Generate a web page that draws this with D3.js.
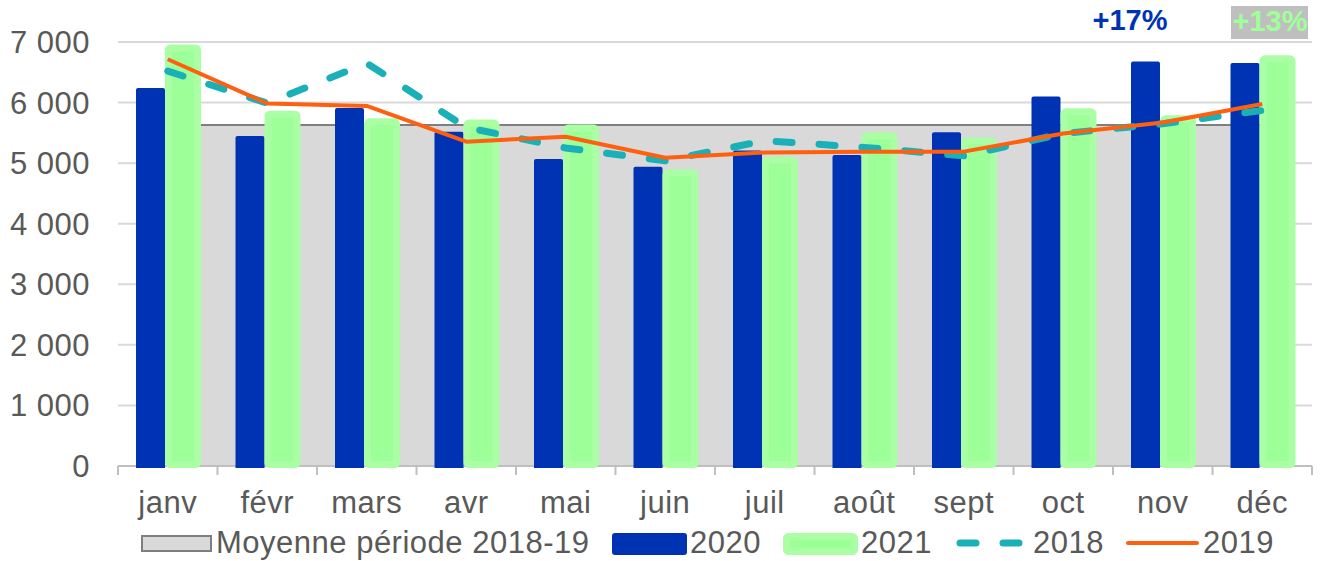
<!DOCTYPE html>
<html>
<head>
<meta charset="utf-8">
<script src="https://cdn.jsdelivr.net/npm/d3@7"></script>
<style>
	body { margin: 0; background: #fff; }
	svg { display: block; font-family: "Liberation Sans", Arial, sans-serif; }
</style>
</head>
<body>
<script>
const months = ['janv', 'févr', 'mars', 'avr', 'mai', 'juin', 'juil', 'août', 'sept', 'oct', 'nov', 'déc']
const yTicks = [0, 1000, 2000, 3000, 4000, 5000, 6000, 7000]

// average 2018-19 (grey area)
const moyenne = [5630, 5630, 5630, 5630, 5630, 5630, 5630, 5630, 5630, 5630, 5630, 5630]
const values2020 = [6240, 5450, 5910, 5520, 5070, 4940, 5210, 5135, 5510, 6100, 6680, 6655]
const values2021 = [6960, 5865, 5740, 5720, 5640, 4900, 5110, 5510, 5425, 5905, 5790, 6780]
const values2018 = [6520, 5990, 6650, 5590, 5250, 5040, 5370, 5260, 5120, 5490, 5650, 5870]
const values2019 = [6715, 5985, 5945, 5355, 5435, 5090, 5175, 5190, 5190, 5490, 5670, 5975]

const TEXT = '#595959'
const BLUE = '#0033b4'
const GREEN = '#9dff97'
const GREEN_LIGHT = '#aaffa4'
const TEAL = '#1ab0b8'
const ORANGE = '#ff6010'
const FONT_SIZE = '31px'
const SPACING = '0.5px'

const width = 1322
const height = 561

const svg = d3.select('body').append('svg')
	.attr('width', width)
	.attr('height', height)

const x = d3.scaleBand()
	.domain(months)
	.range([118, 1312])
	.paddingInner(0)
	.paddingOuter(0)

const y = d3.scaleLinear()
	.domain([0, 7000])
	.range([466, 42])

const fmt = d3.formatLocale({ decimal: ',', thousands: ' ', grouping: [3], currency: ['', ' €'] }).format(',d')
const cx = (d, i) => x(months[i]) + x.bandwidth() / 2

// gridlines
svg.append('g')
	.selectAll('line')
	.data(yTicks.filter(t => t > 0))
	.enter()
		.append('line')
		.attr('x1', 118)
		.attr('x2', 1312)
		.attr('y1', d => y(d))
		.attr('y2', d => y(d))
		.attr('stroke', '#d9d9d9')
		.attr('stroke-width', 2)

// y labels
svg.append('g')
	.selectAll('text')
	.data(yTicks)
	.enter()
		.append('text')
		.attr('x', 90)
		.attr('y', d => y(d) + 11)
		.attr('text-anchor', 'end')
		.attr('fill', TEXT)
		.style('font-size', FONT_SIZE)
		.style('letter-spacing', SPACING)
		.text(d => fmt(d))

// grey average area
const area = d3.area()
	.x(cx)
	.y0(y(0))
	.y1(d => y(d))

svg.append('path')
	.datum(moyenne)
	.attr('d', area)
	.attr('fill', '#d9d9d9')

svg.append('path')
	.datum(moyenne)
	.attr('d', d3.line().x(cx).y(d => y(d)))
	.attr('fill', 'none')
	.attr('stroke', '#7f7f7f')
	.attr('stroke-width', 2)

// x axis line + ticks
svg.append('line')
	.attr('x1', 118).attr('x2', 1312)
	.attr('y1', y(0)).attr('y2', y(0))
	.attr('stroke', '#bfbfbf')
	.attr('stroke-width', 2)

svg.append('g')
	.selectAll('line')
	.data(months.concat(['end']))
	.enter()
		.append('line')
		.attr('x1', (d, i) => 118 + i * x.bandwidth())
		.attr('x2', (d, i) => 118 + i * x.bandwidth())
		.attr('y1', y(0))
		.attr('y2', y(0) + 9)
		.attr('stroke', '#bfbfbf')
		.attr('stroke-width', 2)

// bars 2020
svg.append('g')
	.selectAll('path')
	.data(values2020)
	.enter()
		.append('path')
		.attr('d', (d, i) => {
			let x0 = x(months[i]) + 18
			let w = 29
			let top = y(d)
			let bottom = y(0) + 2
			let r = 2
			return `M${x0},${bottom}V${top + r}Q${x0},${top} ${x0 + r},${top}H${x0 + w - r}Q${x0 + w},${top} ${x0 + w},${top + r}V${bottom}Z`
		})
		.attr('fill', BLUE)

// bars 2021 (light border)
svg.append('g')
	.selectAll('rect')
	.data(values2021)
	.enter()
		.append('rect')
		.attr('x', (d, i) => x(months[i]) + 47 + 3.5)
		.attr('y', d => y(d) + 3.5)
		.attr('width', 29)
		.attr('height', d => y(0) + 2 - y(d) - 7)
		.attr('rx', 2)
		.attr('fill', GREEN)
		.attr('stroke', GREEN_LIGHT)
		.attr('stroke-width', 7)

// lines
svg.append('path')
	.datum(values2018)
	.attr('d', d3.line().x(cx).y(d => y(d)))
	.attr('fill', 'none')
	.attr('stroke', TEAL)
	.attr('stroke-width', 7)
	.attr('stroke-linecap', 'round')
	.attr('stroke-dasharray', '16 27')

svg.append('path')
	.datum(values2019)
	.attr('d', d3.line().x(cx).y(d => y(d)))
	.attr('fill', 'none')
	.attr('stroke', ORANGE)
	.attr('stroke-width', 4)
	.attr('stroke-linejoin', 'round')

// category labels
svg.append('g')
	.selectAll('text')
	.data(months)
	.enter()
		.append('text')
		.attr('x', d => x(d) + x.bandwidth() / 2)
		.attr('y', 513)
		.attr('text-anchor', 'middle')
		.attr('fill', TEXT)
		.style('font-size', FONT_SIZE)
		.style('letter-spacing', SPACING)
		.text(d => d)

// annotations
svg.append('text')
	.attr('x', 1130)
	.attr('y', 30)
	.attr('text-anchor', 'middle')
	.attr('fill', BLUE)
	.style('font-size', '29px')
	.style('font-weight', '700')
	.text('+17%')

svg.append('rect')
	.attr('x', 1231)
	.attr('y', 6)
	.attr('width', 77)
	.attr('height', 33)
	.attr('fill', '#bfbfbf')

svg.append('text')
	.attr('x', 1270)
	.attr('y', 31)
	.attr('text-anchor', 'middle')
	.attr('fill', '#a0ff98')
	.style('font-size', '29px')
	.style('font-weight', '700')
	.text('+13%')

// legend
let legend = svg.append('g')
let ly = 543

legend.append('rect')
	.attr('x', 142).attr('y', ly - 7)
	.attr('width', 69).attr('height', 15)
	.attr('fill', '#d9d9d9')
	.attr('stroke', '#7f7f7f')
	.attr('stroke-width', 2)

legend.append('rect')
	.attr('x', 612).attr('y', ly - 10)
	.attr('width', 75).attr('height', 22)
	.attr('rx', 3)
	.attr('fill', BLUE)

legend.append('rect')
	.attr('x', 786.5).attr('y', ly - 6.5)
	.attr('width', 68).attr('height', 15)
	.attr('rx', 2)
	.attr('fill', GREEN)
	.attr('stroke', GREEN_LIGHT)
	.attr('stroke-width', 7)

legend.append('line')
	.attr('x1', 958).attr('x2', 1030)
	.attr('y1', ly).attr('y2', ly)
	.attr('stroke', TEAL)
	.attr('stroke-width', 7)
	.attr('stroke-linecap', 'round')
	.attr('stroke-dasharray', '16 27')
	.attr('stroke-dashoffset', -2)

legend.append('line')
	.attr('x1', 1128).attr('x2', 1197)
	.attr('y1', ly).attr('y2', ly)
	.attr('stroke', ORANGE)
	.attr('stroke-width', 4)
	.attr('stroke-linecap', 'round')

const legendLabels = [
	{ text: 'Moyenne période 2018-19', x: 216 },
	{ text: '2020', x: 690 },
	{ text: '2021', x: 861 },
	{ text: '2018', x: 1033 },
	{ text: '2019', x: 1203 },
]

legend.selectAll('text')
	.data(legendLabels)
	.enter()
		.append('text')
		.attr('x', d => d.x)
		.attr('y', 553)
		.attr('fill', TEXT)
		.style('font-size', FONT_SIZE)
		.style('letter-spacing', SPACING)
		.text(d => d.text)
</script>
</body>
</html>
